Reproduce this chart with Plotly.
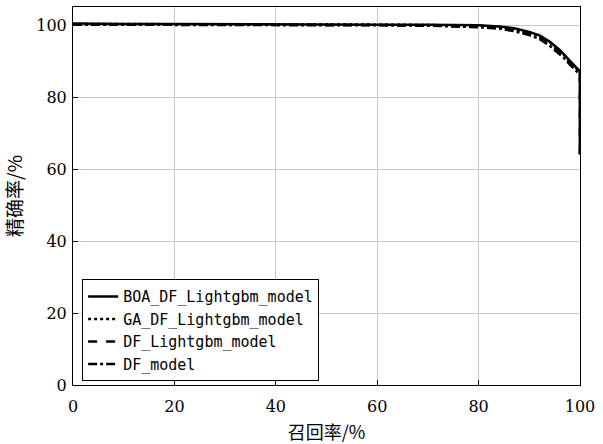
import plotly.graph_objects as go

recall = [0, 5, 10, 20, 30, 40, 50, 60, 70, 75, 80, 84, 87, 90, 92, 94, 96, 97, 98, 99, 99.6, 100, 100]
boa_prec = [100.4, 100.3, 100.3, 100.3, 100.2, 100.2, 100.2, 100.1, 100.1, 100.0, 99.9, 99.6, 99.1, 98.1, 97.1, 95.4, 93.1, 91.6, 90.0, 88.6, 87.7, 87.2, 64]
ga_prec = [100.3, 100.3, 100.2, 100.3, 100.2, 100.1, 100.2, 100.1, 100.0, 99.9, 99.8, 99.5, 98.9, 97.9, 96.9, 95.2, 92.9, 91.4, 89.8, 88.4, 87.5, 87.0, 64]
dflgb_prec = [100.2, 100.2, 100.2, 100.2, 100.1, 100.1, 100.1, 100.0, 99.9, 99.8, 99.6, 99.3, 98.7, 97.6, 96.6, 94.8, 92.5, 91.0, 89.4, 88.0, 87.1, 86.6, 64]
df_prec = [100.1, 100.1, 100.1, 100.1, 100.0, 100.0, 100.0, 99.9, 99.8, 99.6, 99.4, 99.0, 98.3, 97.2, 96.1, 94.3, 92.0, 90.6, 89.0, 87.6, 86.7, 86.2, 64]

series = [
    ("BOA_DF_Lightgbm_model", boa_prec, "solid"),
    ("GA_DF_Lightgbm_model", ga_prec, "dot"),
    ("DF_Lightgbm_model", dflgb_prec, "dash"),
    ("DF_model", df_prec, "dashdot"),
]

x_ticks = [0, 20, 40, 60, 80, 100]
y_ticks = [0, 20, 40, 60, 80, 100]

fig = go.Figure()
for name, vals, dash in series:
    fig.add_trace(go.Scatter(x=recall, y=vals, mode="lines", name=name,
                             line=dict(color="black", width=2.5, dash=dash)))

axis_common = dict(showgrid=True, gridcolor="#c8c8c8", gridwidth=1,
                   showline=True, linecolor="black", linewidth=1, mirror=True,
                   ticks="inside", ticklen=5, tickcolor="black", zeroline=False,
                   automargin=False,
                   tickfont=dict(family="DejaVu Serif", size=16, color="black"))

fig.update_layout(
    width=603, height=444,
    margin=dict(l=73, r=23, t=7, b=59),
    plot_bgcolor="white", paper_bgcolor="white",
    xaxis=dict(range=[0, 100], tickvals=x_ticks, ticklabelstandoff=7,
               title=dict(text="召回率/%", font=dict(family="Noto Sans CJK SC", size=18, color="black"), standoff=12),
               **axis_common),
    yaxis=dict(range=[0, 105], tickvals=y_ticks, ticklabelstandoff=2,
               title=dict(text="精确率/%", font=dict(family="Noto Sans CJK SC", size=19, color="black"), standoff=8),
               **axis_common),
    legend=dict(x=0.018, y=0.01, xanchor="left", yanchor="bottom",
                bgcolor="white", bordercolor="black", borderwidth=1,
                font=dict(family="DejaVu Sans Mono", size=15, color="black"),
                tracegroupgap=0, itemwidth=30),
    showlegend=True,
)

fig.write_html("out.html")
